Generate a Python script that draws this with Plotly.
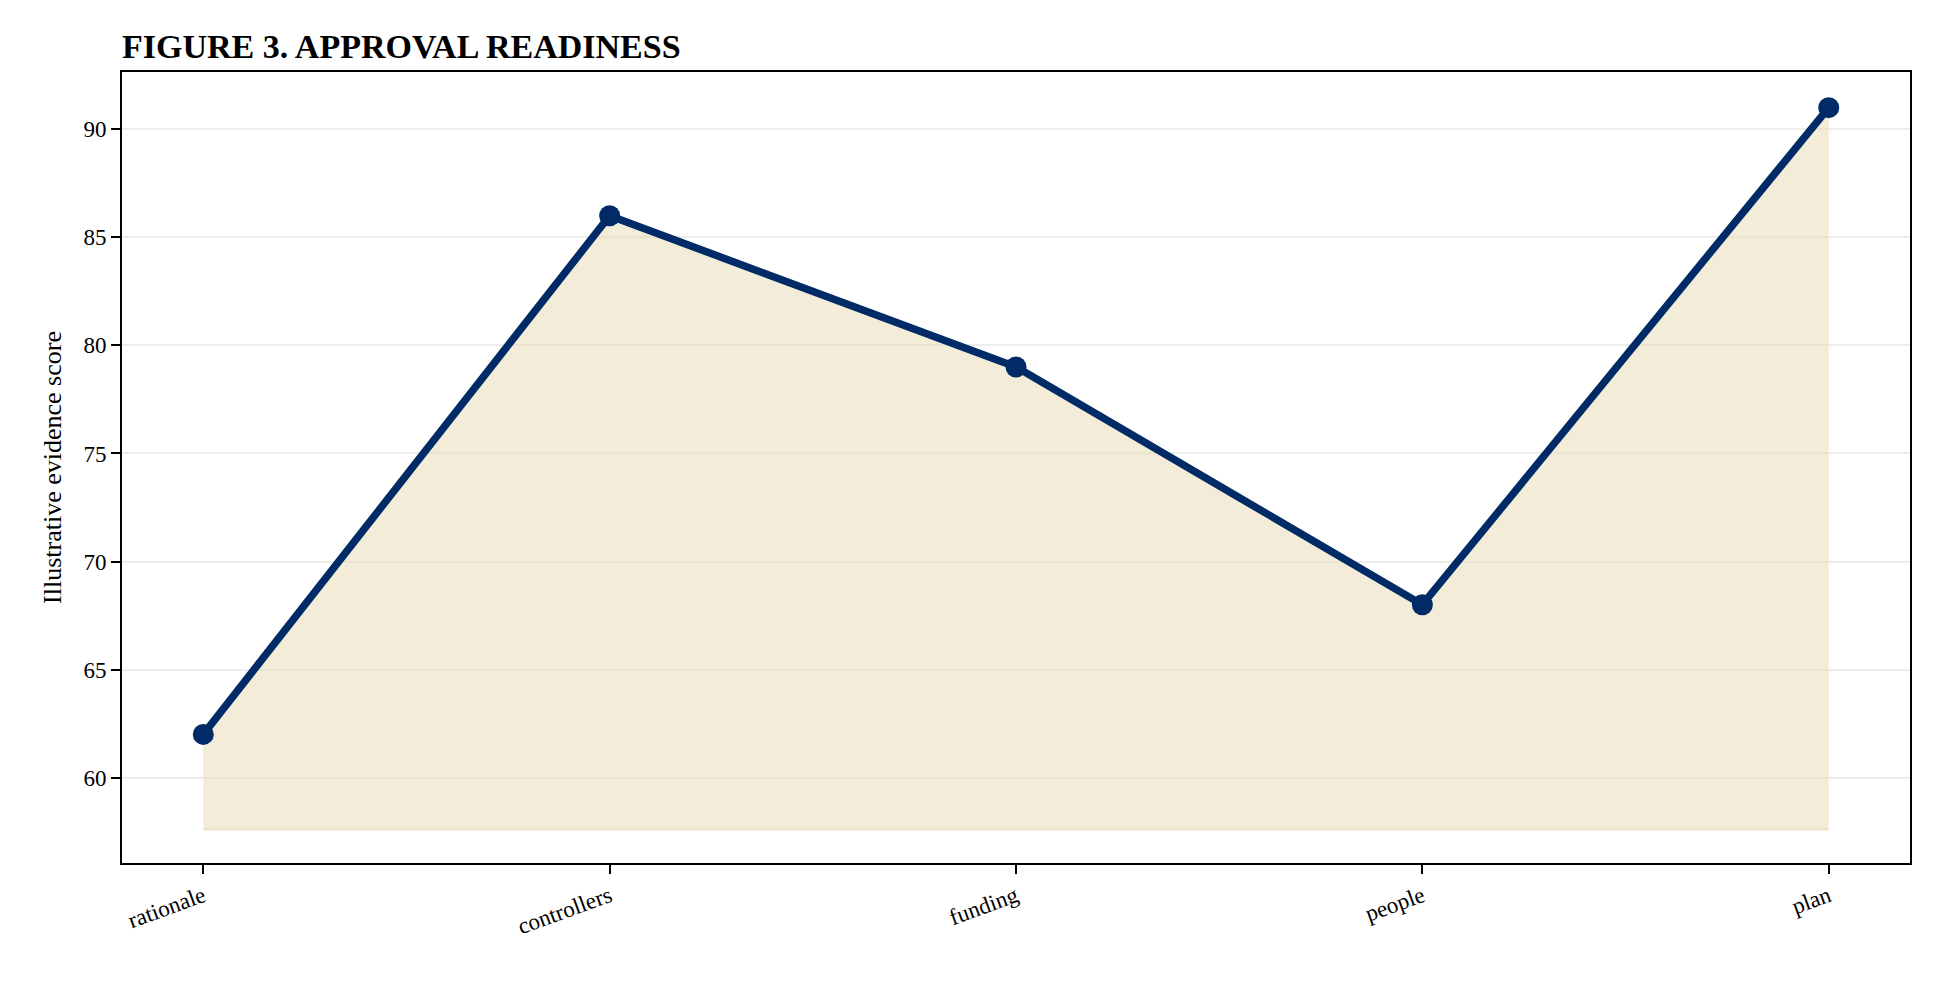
import plotly.graph_objects as go

categories = ["rationale", "controllers", "funding", "people", "plan"]
scores = [62, 86, 79, 68, 91]
baseline = 57.6
y_ticks = [60, 65, 70, 75, 80, 85, 90]

fig = go.Figure()
fig.add_trace(go.Scatter(x=list(range(len(categories))), y=[baseline]*len(categories),
                         mode="lines", line=dict(color="rgba(226,208,160,0.5)", width=2),
                         hoverinfo="skip", showlegend=False))
fig.add_trace(go.Scatter(x=list(range(len(categories))), y=scores, mode="lines",
                         fill="tonexty", fillcolor="rgba(232,218,180,0.5)",
                         line=dict(color="rgba(226,208,160,0.5)", width=2), showlegend=False))
fig.add_trace(go.Scatter(x=list(range(len(categories))), y=scores, mode="lines+markers",
                         line=dict(color="#002b66", width=7.5),
                         marker=dict(size=21, color="#002b66"), showlegend=False))

fig.update_layout(
    width=1940, height=983, paper_bgcolor="white", plot_bgcolor="white",
    margin=dict(l=114, r=38, t=64, b=128),
    font=dict(family="Liberation Serif", color="black", size=23),
    title=dict(text="<b>FIGURE 3. APPROVAL READINESS</b>", x=114/1940, xanchor="left",
               y=1-38/983, yanchor="middle", font=dict(size=34)),
)
fig.update_xaxes(range=[-0.2, 4.2], tickmode="array", tickvals=list(range(len(categories))),
                 ticktext=categories, tickangle=-20, showgrid=False, showline=True,
                 linecolor="black", linewidth=2, mirror=True, ticks="outside", ticklen=9,
                 tickwidth=2, tickcolor="black", zeroline=False)
fig.update_yaxes(range=[56.05, 92.65], tickvals=y_ticks, showgrid=True, gridcolor="rgba(0,0,0,0.07)",
                 gridwidth=2, showline=True, linecolor="black", linewidth=2, mirror=True,
                 ticks="outside", ticklen=9, tickwidth=2, tickcolor="black", zeroline=False,
                 title=dict(text="Illustrative evidence score", font=dict(size=26), standoff=14))
fig.write_html("out.html")
